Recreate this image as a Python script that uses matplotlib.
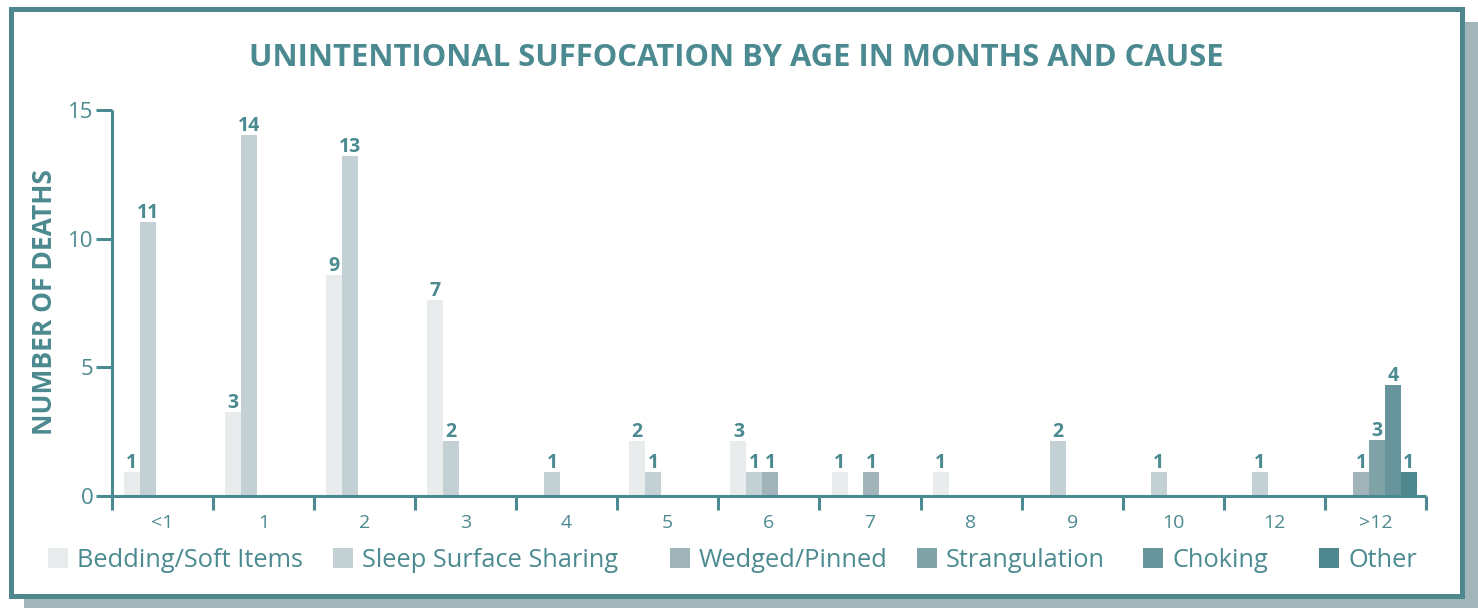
import matplotlib
matplotlib.use("Agg")
import matplotlib.pyplot as plt
from matplotlib.patches import Rectangle
from matplotlib import font_manager

# ---------------- data ----------------
categories = ["<1", "1", "2", "3", "4", "5", "6", "7", "8", "9", "10", "12", ">12"]
series = ["Bedding/Soft Items", "Sleep Surface Sharing", "Wedged/Pinned",
          "Strangulation", "Choking", "Other"]

# printed counts
bedding_counts = [1, 3, 9, 7, 0, 2, 3, 1, 1, 0, 0, 0, 0]
sleep_counts = [11, 14, 13, 2, 1, 1, 1, 0, 0, 2, 1, 1, 0]
wedged_counts = [0, 0, 0, 0, 0, 0, 1, 1, 0, 0, 0, 0, 1]
strang_counts = [0, 0, 0, 0, 0, 0, 0, 0, 0, 0, 0, 0, 3]
choking_counts = [0, 0, 0, 0, 0, 0, 0, 0, 0, 0, 0, 0, 4]
other_counts = [0, 0, 0, 0, 0, 0, 0, 0, 0, 0, 0, 0, 1]

# bar heights as drawn in the reference
bedding_heights = [0.93, 3.26, 8.59, 7.62, 0, 2.14, 2.14, 0.93, 0.93, 0, 0, 0, 0]
sleep_heights = [10.65, 14.03, 13.21, 2.14, 0.93, 0.93, 0.93, 0, 0, 2.14, 0.93, 0.93, 0]
wedged_heights = [0, 0, 0, 0, 0, 0, 0.93, 0.93, 0, 0, 0, 0, 0.93]
strang_heights = [0, 0, 0, 0, 0, 0, 0, 0, 0, 0, 0, 0, 2.18]
choking_heights = [0, 0, 0, 0, 0, 0, 0, 0, 0, 0, 0, 0, 4.31]
other_heights = [0, 0, 0, 0, 0, 0, 0, 0, 0, 0, 0, 0, 0.93]

y_ticks = [0, 5, 10, 15]
title = "UNINTENTIONAL SUFFOCATION BY AGE IN MONTHS AND CAUSE"
y_label = "NUMBER OF DEATHS"

# ---------------- style ----------------
TEAL = "#4b8a90"
FRAME = "#4e878d"
SHADOW = "#a1b5ba"
colors = ["#e8ecec", "#c3d0d4", "#a1b4b9", "#80a3a8", "#68949b", "#4e878e"]


def pick(names):
    for n in names:
        try:
            font_manager.findfont(n, fallback_to_default=False)
            return n
        except Exception:
            pass
    return "DejaVu Sans"


BOLD_FONT = pick(["Open Sans", "Noto Sans", "DejaVu Sans"])
REG_FONT = pick(["Open Sans", "Noto Sans", "DejaVu Sans"])
COND_FONT = pick(["Open Sans", "Liberation Sans", "DejaVu Sans"])

W, H = 1478, 608
fig = plt.figure(figsize=(W / 100, H / 100), dpi=100)
fig.patch.set_facecolor("white")


def fx(px):
    return px / W


def fy(py):
    return 1 - py / H


# shadow and frame
fig.patches.append(Rectangle((fx(24), fy(608)), fx(1478) - fx(24), fy(22) - fy(608),
                             transform=fig.transFigure, facecolor=SHADOW,
                             edgecolor="none", zorder=0))
fig.patches.append(Rectangle((fx(10.5), fy(595.5)), fx(1461.5) - fx(10.5), fy(8.5) - fy(595.5),
                             transform=fig.transFigure, facecolor="white",
                             edgecolor=FRAME, linewidth=3.6, zorder=1))

ax = fig.add_axes([fx(111.7), fy(496), fx(1426) - fx(111.7), fy(110) - fy(496)])
ax.set_facecolor("none")
ax.set_zorder(2)

heights = [bedding_heights, sleep_heights, wedged_heights, strang_heights,
           choking_heights, other_heights]
counts = [bedding_counts, sleep_counts, wedged_counts, strang_counts,
          choking_counts, other_counts]

slot_w = 0.158
start = 0.12
last_group_shift = -1  # the last group is drawn one slot to the left

for s in range(len(series)):
    for k in range(len(categories)):
        h = heights[s][k]
        if h <= 0:
            continue
        slot = s + (last_group_shift if k == len(categories) - 1 else 0)
        left = k + start + slot * slot_w
        ax.bar(left, h, width=slot_w, align="edge", color=colors[s],
               edgecolor="none", zorder=2)
        ax.annotate(str(counts[s][k]), (left + slot_w / 2, h), xytext=(0, 3),
                    textcoords="offset points", ha="center", va="baseline",
                    fontsize=14, fontweight="bold", color=TEAL,
                    family=BOLD_FONT, zorder=3)

ax.set_xlim(0, len(categories))
ax.set_ylim(0, 15)
for sp in ["top", "right"]:
    ax.spines[sp].set_visible(False)
for sp in ["left", "bottom"]:
    ax.spines[sp].set_color(TEAL)
    ax.spines[sp].set_linewidth(2.2)
    ax.spines[sp].set_capstyle("butt")

ax.set_xticks([k + 0.5 for k in range(len(categories))])
ax.set_xticklabels(categories)
ax.set_xticks(list(range(len(categories) + 1)), minor=True)
ax.tick_params(axis="x", which="major", length=0, pad=13, labelsize=14,
               labelcolor=TEAL)
ax.tick_params(axis="x", which="minor", length=10, width=2.2, color=TEAL,
               direction="out")
for lab in ax.get_xticklabels():
    lab.set_family(COND_FONT)

ax.set_yticks(y_ticks)
ax.set_yticklabels([str(v) for v in y_ticks])
ax.tick_params(axis="y", length=11.5, width=2.2, color=TEAL, pad=1.5,
               labelsize=16, labelcolor=TEAL)
for lab in ax.get_yticklabels():
    lab.set_family(REG_FONT)

# title and axis label
fig.text(fx(736), fy(66), title, ha="center", va="baseline", fontsize=22.3,
         fontweight="bold", color=TEAL, family=BOLD_FONT)
fig.text(fx(52), fy(302), y_label, rotation=90, rotation_mode="anchor",
         ha="center", va="baseline", fontsize=19, fontweight="bold",
         color=TEAL, family=BOLD_FONT)

# legend
legend_x = [48, 333, 670, 917, 1143, 1319]
for s, name in enumerate(series):
    x0 = legend_x[s]
    fig.patches.append(Rectangle((fx(x0), fy(568)), fx(20), 20 / H,
                                 transform=fig.transFigure, facecolor=colors[s],
                                 edgecolor="none", zorder=3))
    fig.text(fx(x0 + 29), fy(567), name, ha="left", va="baseline",
             fontsize=18.3, color=TEAL, family=COND_FONT)

fig.savefig("out.png", dpi=100, facecolor="white")
